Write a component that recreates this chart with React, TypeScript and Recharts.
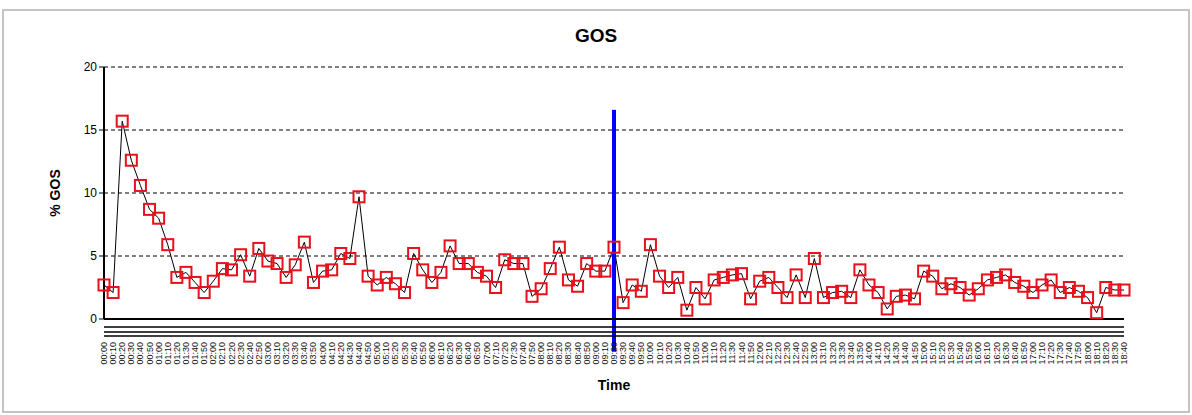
import React from 'react';
import { LineChart, Line, XAxis, YAxis, CartesianGrid, ReferenceLine } from 'recharts';

// % GOS readings, one per time slot
const gos = [
  2.7, 2.1, 15.7, 12.6, 10.6, 8.7, 8.0, 5.9, 3.3, 3.7,
  2.9, 2.1, 3.0, 4.0, 3.9, 5.1, 3.4, 5.6, 4.6, 4.4,
  3.3, 4.3, 6.1, 2.9, 3.8, 3.9, 5.2, 4.8, 9.7, 3.4,
  2.7, 3.3, 2.8, 2.1, 5.2, 3.9, 2.9, 3.7, 5.8, 4.4,
  4.4, 3.7, 3.4, 2.5, 4.7, 4.4, 4.4, 1.8, 2.4, 4.0,
  5.7, 3.1, 2.6, 4.4, 3.8, 3.8, 5.7, 1.3, 2.7, 2.2,
  5.9, 3.4, 2.5, 3.3, 0.7, 2.5, 1.6, 3.1, 3.3, 3.5,
  3.6, 1.6, 3.0, 3.3, 2.5, 1.7, 3.5, 1.7, 4.8, 1.7,
  2.1, 2.2, 1.7, 3.9, 2.7, 2.1, 0.8, 1.8, 1.9, 1.6,
  3.8, 3.4, 2.4, 2.8, 2.5, 1.9, 2.4, 3.1, 3.3, 3.5,
  2.9, 2.6, 2.1, 2.7, 3.1, 2.1, 2.5, 2.2, 1.7, 0.5,
  2.5, 2.3, 2.3,
];

// time slot labels (10 min steps, all unique)
const times = gos.map((_, i) => {
  const m = i * 10;
  const hh = String(Math.floor(m / 60)).padStart(2, '0');
  const mm = String(m % 60).padStart(2, '0');
  return `${hh}:${mm}`;
});

const yTicks = [0, 5, 10, 15, 20];

// blue marker line
const markerIndex = 56;
const markerTop = 16.6;
const markerBottom = -2.6;

const data = times.map((t, i) => ({ t, gos: gos[i] }));

const SquareDot = (props: any) => {
  const { cx, cy, index } = props;
  if (cx == null || cy == null) return null;
  return (
    <rect
      key={`sq-${index}`}
      x={cx - 5.5}
      y={cy - 5.5}
      width={11}
      height={11}
      fill="none"
      stroke="#e8101a"
      strokeWidth={2}
    />
  );
};

const TimeTick = (props: any) => {
  const { x, y, payload } = props;
  return (
    <text
      x={x}
      y={y - 2}
      transform={`rotate(-90, ${x}, ${y - 2})`}
      textAnchor="end"
      dominantBaseline="central"
      fontSize={9}
      fill="#111"
    >
      {payload.value}
    </text>
  );
};

const App: React.FC = () => {
  return (
    <div
      style={{
        position: 'absolute',
        left: 0,
        top: 0,
        width: 1192,
        height: 415,
        background: '#fff',
        fontFamily: '"Liberation Sans", Arial, sans-serif',
      }}
    >
      <div
        style={{
          position: 'absolute',
          left: 2,
          top: 9,
          width: 1184,
          height: 400,
          border: '2px solid #c4c4c4',
        }}
      />
      <div
        style={{
          position: 'absolute',
          left: 0,
          width: 1192,
          top: 25,
          textAlign: 'center',
          fontSize: 19,
          fontWeight: 'bold',
          color: '#000',
        }}
      >
        GOS
      </div>
      <div style={{ position: 'absolute', left: 0, top: 0 }}>
        <LineChart width={1192} height={415} data={data} margin={{ top: 67, right: 68, bottom: 0, left: 0 }}>
          <CartesianGrid vertical={false} stroke="#000" strokeDasharray="4 3" />
          <XAxis
            dataKey="t"
            interval={0}
            height={8}
            tick={false}
            tickSize={5}
            tickLine={{ stroke: '#000' }}
            axisLine={{ stroke: '#000', strokeWidth: 2 }}
          />
          <XAxis xAxisId="r1" dataKey="t" height={5} tick={false} tickLine={false} axisLine={{ stroke: '#000', strokeWidth: 1.5 }} />
          <XAxis xAxisId="r2" dataKey="t" height={4} tick={false} tickLine={false} axisLine={{ stroke: '#000', strokeWidth: 1.5 }} />
          <XAxis
            xAxisId="r3"
            dataKey="t"
            height={79}
            interval={0}
            tick={<TimeTick />}
            tickLine={false}
            axisLine={{ stroke: '#000', strokeWidth: 1.5 }}
            label={{ value: 'Time', position: 'insideBottom', offset: 25, fontSize: 14, fontWeight: 'bold', fill: '#000' }}
          />
          <YAxis
            width={104}
            domain={[0, 20]}
            ticks={yTicks}
            interval={0}
            tickSize={5}
            tickLine={{ stroke: '#000' }}
            axisLine={{ stroke: '#000', strokeWidth: 2 }}
            tick={{ fill: '#000', fontSize: 12 }}
            label={{ value: '% GOS', angle: -90, position: 'center', dx: 3, fontSize: 14, fontWeight: 'bold', fill: '#000' }}
          />
          <Line
            dataKey="gos"
            stroke="#000"
            strokeWidth={1}
            dot={<SquareDot />}
            activeDot={false}
            isAnimationActive={false}
          />
          <ReferenceLine
            segment={[
              { x: times[markerIndex], y: markerTop },
              { x: times[markerIndex], y: markerBottom },
            ]}
            stroke="#0000ff"
            strokeWidth={4}
            ifOverflow="visible"
          />
        </LineChart>
      </div>
    </div>
  );
};

export default App;
